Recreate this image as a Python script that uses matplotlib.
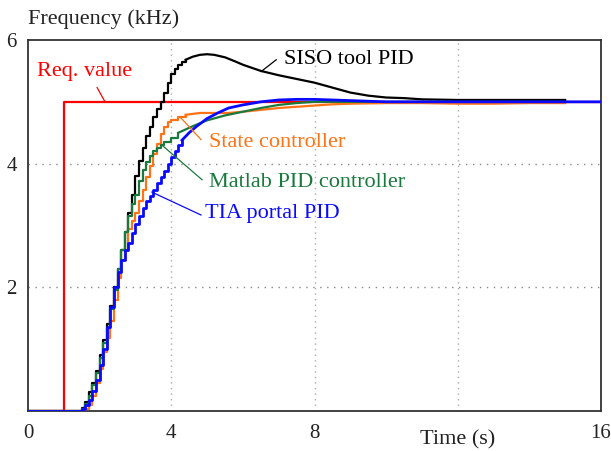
import matplotlib
matplotlib.use('Agg')
from matplotlib import pyplot as plt

plt.rcParams['font.family'] = ['Liberation Serif', 'DejaVu Serif']

# reference signal
t_ref = [0.0, 1.0, 16.0]
f_ref = [0.0, 5.0, 5.0]

# SISO tool PID
t_siso = [0.0, 1.5, 1.6, 1.7, 1.8, 1.9, 2.0, 2.1, 2.2, 2.3, 2.4, 2.5, 2.6, 2.7, 2.8, 2.9,
          3.0, 3.1, 3.2, 3.3, 3.4, 3.5, 3.6, 3.7, 3.8, 3.9, 4.0, 4.1, 4.2, 4.3, 4.4, 4.6,
          4.8, 5.0, 5.2, 5.5, 5.8, 6.0, 6.3, 6.5, 7.0, 7.5, 8.0, 8.5, 9.0, 9.5, 10.0,
          10.5, 11.0, 12.0, 13.0, 14.0, 15.0]
f_siso = [0.0, 0.05, 0.15, 0.3, 0.45, 0.65, 0.9, 1.15, 1.4, 1.7, 2.0, 2.3, 2.6, 2.9, 3.2, 3.5,
          3.8, 4.05, 4.25, 4.45, 4.6, 4.75, 4.88, 5.0, 5.15, 5.3, 5.45, 5.53, 5.6, 5.65, 5.68, 5.73,
          5.76, 5.77, 5.76, 5.72, 5.65, 5.6, 5.54, 5.5, 5.43, 5.37, 5.31, 5.23, 5.15, 5.1, 5.07,
          5.06, 5.04, 5.03, 5.03, 5.03, 5.03]

# state controller
t_state = [0.0, 1.6, 1.7, 1.8, 1.9, 2.0, 2.1, 2.2, 2.3, 2.4, 2.5, 2.6, 2.7, 2.8, 2.9,
           3.0, 3.1, 3.2, 3.3, 3.4, 3.5, 3.6, 3.7, 3.8, 3.9, 4.0, 4.2, 4.4, 4.8, 5.3,
           5.6, 6.0, 6.5, 7.0, 7.5, 8.0, 8.5, 9.0, 10.0, 11.0, 12.0, 13.0, 14.0, 15.0]
f_state = [0.0, 0.03, 0.1, 0.25, 0.45, 0.68, 0.95, 1.18, 1.45, 1.8, 2.15, 2.45, 2.6, 2.95, 3.08,
           3.2, 3.4, 3.58, 3.78, 3.97, 4.15, 4.32, 4.48, 4.6, 4.67, 4.71, 4.76, 4.79, 4.82, 4.82,
           4.82, 4.84, 4.87, 4.9, 4.92, 4.94, 4.96, 4.97, 4.98, 4.98, 4.97, 4.97, 4.98, 4.98]

# Matlab PID controller
t_matlab = [0.0, 1.5, 1.6, 1.7, 1.8, 1.9, 2.0, 2.1, 2.2, 2.3, 2.4, 2.5, 2.6, 2.7, 2.8, 2.9,
            3.0, 3.1, 3.2, 3.3, 3.4, 3.5, 3.6, 3.7, 3.8, 4.0, 4.2, 4.5, 4.7, 5.0, 5.5,
            6.0, 6.5, 7.0, 7.5, 8.0, 9.0, 10.0, 11.0, 12.0, 13.0, 14.0, 15.0]
f_matlab = [0.0, 0.03, 0.12, 0.25, 0.42, 0.62, 0.85, 1.1, 1.35, 1.65, 1.95, 2.3, 2.6, 2.9, 3.15, 3.35,
            3.5, 3.72, 3.9, 4.03, 4.12, 4.2, 4.25, 4.3, 4.35, 4.42, 4.5, 4.58, 4.63, 4.7, 4.78,
            4.84, 4.9, 4.95, 4.98, 5.0, 5.0, 5.0, 5.0, 5.0, 5.0, 5.0, 5.0]

# TIA portal PID
t_tia = [0.0, 1.5, 1.6, 1.7, 1.8, 1.9, 2.0, 2.1, 2.2, 2.3, 2.4, 2.5, 2.6, 2.7, 2.8, 2.9,
         3.0, 3.1, 3.2, 3.3, 3.4, 3.5, 3.6, 3.7, 3.8, 3.9, 4.0, 4.1, 4.2, 4.3, 4.5, 4.7,
         5.0, 5.3, 5.6, 6.0, 6.5, 7.0, 7.5, 8.0, 8.5, 9.0, 10.0, 11.0, 12.0, 13.0, 14.0,
         15.0, 16.0]
f_tia = [0.0, 0.03, 0.1, 0.18, 0.33, 0.5, 0.75, 1.0, 1.36, 1.68, 2.0, 2.25, 2.45, 2.6, 2.72, 2.88,
         3.02, 3.15, 3.28, 3.4, 3.48, 3.57, 3.68, 3.78, 3.88, 3.99, 4.1, 4.2, 4.3, 4.38, 4.5, 4.6,
         4.73, 4.82, 4.9, 4.95, 5.0, 5.03, 5.04, 5.04, 5.03, 5.02, 5.0, 5.0, 5.0, 5.0, 5.0,
         5.0, 5.0]

c_red = '#ff0000'
c_orange = '#ff7316'
c_green = '#1a7a3e'
c_blue = '#0a0aff'

T_SPLIT = 4.45  # sampled stairs up to here, smooth afterwards


def plot_response(ax, t, f, color, lw, z):
    n = sum(1 for v in t if v <= T_SPLIT)
    ax.plot(t[:n], f[:n], color=color, lw=lw, drawstyle='steps-post', zorder=z)
    ax.plot(t[n - 1:], f[n - 1:], color=color, lw=lw, zorder=z)


fig = plt.figure(figsize=(6.11, 4.51), dpi=100)
ax = fig.add_axes([28 / 611, 40 / 451, 573 / 611, 371 / 451])

ax.plot(t_ref, f_ref, color=c_red, lw=1.6, drawstyle='steps-post', zorder=2)
plot_response(ax, t_siso, f_siso, 'black', 1.6, 3)
plot_response(ax, t_state, f_state, c_orange, 1.6, 4)
plot_response(ax, t_matlab, f_matlab, c_green, 1.6, 5)
plot_response(ax, t_tia, f_tia, c_blue, 2.0, 6)

# labels with leader lines
labels = [
    ('Req. value', c_red, (0.25, 5.49), (1.93, 5.23), (2.15, 5.0)),
    ('SISO tool PID', 'black', (7.15, 5.68), (6.93, 5.68), (6.51, 5.49)),
    ('State controller', c_orange, (5.06, 4.35), (4.83, 4.39), (4.27, 4.74)),
    ('Matlab PID controller', c_green, (5.06, 3.69), (4.86, 3.74), (3.74, 4.3)),
    ('TIA portal PID', c_blue, (4.94, 3.2), (4.83, 3.17), (3.46, 3.54)),
]
for txt, col, pos, p0, p1 in labels:
    ax.text(pos[0], pos[1], txt, color=col, fontsize=16, ha='left', va='center', zorder=7)
    ax.plot([p0[0], p1[0]], [p0[1], p1[1]], color=col, lw=0.9, zorder=7)

ax.set_xlim(0, 16)
ax.set_ylim(0, 6)
ax.set_xticks([0, 4, 8, 16])
ax.set_yticks([2, 4, 6])
ax.tick_params(length=0, labelsize=15, colors='#222222')
ax.tick_params(axis='x', pad=9)
ax.tick_params(axis='y', pad=8)

for x in [4, 8, 12]:
    ax.axvline(x, color='#aaaaaa', lw=1.0, ls=(0, (1, 3)), zorder=1)
for y in [2, 4]:
    ax.axhline(y, color='#888888', lw=1.0, ls=(0, (1, 4)), zorder=1)

for s in ax.spines.values():
    s.set_color('#333333')
    s.set_linewidth(1.3)

ax.text(0.0, 1.055, 'Frequency (kHz)', transform=ax.transAxes, fontsize=16,
        ha='left', va='center', color='#222222')
ax.text(0.684, -0.078, 'Time (s)', transform=ax.transAxes, fontsize=16,
        ha='left', va='center', color='#222222')

fig.savefig('out.png', dpi=100)
